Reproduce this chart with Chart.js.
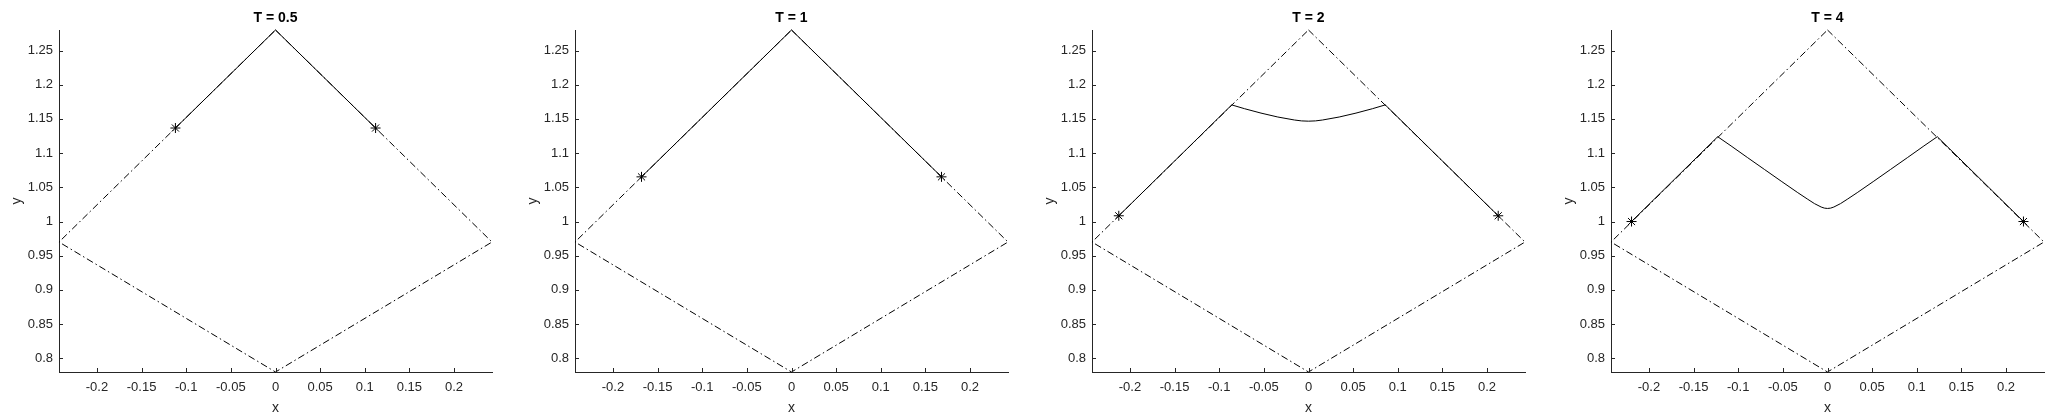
<!DOCTYPE html>
<html>
<head>
<meta charset="utf-8">
<script src="https://cdn.jsdelivr.net/npm/chart.js@4"></script>
<style>
  html, body { margin: 0; padding: 0; background: #fff; overflow: hidden; }
  #wrap { position: relative; width: 2068px; height: 417px; }
  canvas { position: absolute; top: 0; }
</style>
</head>
<body>
<div id="wrap"></div>
<script>
// panel titles
const titles = ['T = 0.5', 'T = 1', 'T = 2', 'T = 4'];

// axis ticks
const xTicks = [-0.2, -0.15, -0.1, -0.05, 0, 0.05, 0.1, 0.15, 0.2];
const yTicks = [0.8, 0.85, 0.9, 0.95, 1, 1.05, 1.1, 1.15, 1.2, 1.25];
const xRange = [-0.2425, 0.2425];
const yRange = [0.78, 1.28];

// dash-dot boundary (same in every panel)
const boundX = [0, 0.2425, 0, -0.2425, 0];
const boundY = [1.28, 0.97, 0.78, 0.97, 1.28];

// solid front, one pair of arrays per panel
const frontX1 = [-0.1121, 0, 0.1121];
const frontY1 = [1.1367, 1.28, 1.1367];

const frontX2 = [-0.168, 0, 0.168];
const frontY2 = [1.0653, 1.28, 1.0653];

const frontX3 = [-0.2125, -0.086, -0.0718, -0.0532, -0.0344, -0.0157, -0.0078, 0,
                 0.0078, 0.0157, 0.0344, 0.0532, 0.0718, 0.086, 0.2125];
const frontY3 = [1.0084, 1.1705, 1.165, 1.1585, 1.1528, 1.1484, 1.1471, 1.1467,
                 1.1471, 1.1484, 1.1528, 1.1585, 1.165, 1.1705, 1.0084];

const frontX4 = [-0.2195, -0.123, -0.108, -0.0894, -0.0707, -0.0519, -0.0333, -0.0221, -0.0146, -0.0071, -0.0035, 0,
                 0.0035, 0.0071, 0.0146, 0.0221, 0.0333, 0.0519, 0.0707, 0.0894, 0.108, 0.123, 0.2195];
const frontY4 = [1.0, 1.124, 1.1105, 1.0933, 1.0762, 1.059, 1.0422, 1.0325, 1.0262, 1.0212, 1.0196, 1.0191,
                 1.0196, 1.0212, 1.0262, 1.0325, 1.0422, 1.059, 1.0762, 1.0933, 1.1105, 1.124, 1.0];

// star markers at the ends of the front
const starX = [[-0.1121, 0.1121], [-0.168, 0.168], [-0.2125, 0.2125], [-0.2195, 0.2195]];
const starY = [[1.1367, 1.1367], [1.0653, 1.0653], [1.0084, 1.0084], [1.0, 1.0]];

const frontsX = [frontX1, frontX2, frontX3, frontX4];
const frontsY = [frontY1, frontY2, frontY3, frontY4];

const canvasLeft = [0, 516, 1033, 1552];
const AX = '#262626';
const FONT = "'Liberation Sans', Arial, Helvetica, sans-serif";

const toPts = (xs, ys) => xs.map((x, i) => ({ x, y: ys[i] }));
const fmt = v => String(Number(v.toFixed(2)));

// MATLAB style ticks pointing into the plot
const inwardTicks = {
  id: 'inwardTicks',
  afterDatasetsDraw(chart) {
    const { ctx, chartArea, scales } = chart;
    ctx.save();
    ctx.strokeStyle = AX;
    ctx.lineWidth = 1;
    scales.x.ticks.forEach(t => {
      const px = Math.round(scales.x.getPixelForValue(t.value)) + 0.5;
      ctx.beginPath();
      ctx.moveTo(px, chartArea.bottom);
      ctx.lineTo(px, chartArea.bottom - 4);
      ctx.stroke();
    });
    scales.y.ticks.forEach(t => {
      const py = Math.round(scales.y.getPixelForValue(t.value)) + 0.5;
      ctx.beginPath();
      ctx.moveTo(chartArea.left, py);
      ctx.lineTo(chartArea.left + 4, py);
      ctx.stroke();
    });
    ctx.restore();
  }
};

const wrap = document.getElementById('wrap');

titles.forEach((title, i) => {
  const cv = document.createElement('canvas');
  cv.width = 551;
  cv.height = 417;
  cv.style.left = canvasLeft[i] + 'px';
  cv.style.width = '551px';
  cv.style.height = '417px';
  wrap.appendChild(cv);

  new Chart(cv.getContext('2d'), {
    type: 'scatter',
    data: {
      datasets: [
        {
          data: toPts(starX[i], starY[i]),
          pointStyle: 'star',
          pointRadius: 5,
          borderColor: '#000',
          backgroundColor: '#000',
          borderWidth: 1,
          showLine: false,
          clip: false,
        },
        {
          data: toPts(frontsX[i], frontsY[i]),
          showLine: true,
          pointRadius: 0,
          borderColor: '#000',
          borderWidth: 1,
          tension: 0,
          clip: false,
        },
        {
          data: toPts(boundX, boundY),
          showLine: true,
          pointRadius: 0,
          borderColor: '#000',
          borderWidth: 1,
          borderDash: [7, 3, 1.5, 3],
          clip: false,
        },
      ],
    },
    options: {
      responsive: false,
      animation: false,
      events: [],
      layout: { padding: 0 },
      plugins: {
        legend: { display: false },
        tooltip: { enabled: false },
        title: {
          display: true,
          text: title,
          color: '#000',
          font: { family: FONT, size: 14, weight: 'bold' },
          padding: { top: 10, bottom: 3.2 },
        },
      },
      scales: {
        x: {
          type: 'linear',
          min: xRange[0],
          max: xRange[1],
          afterBuildTicks: s => { s.ticks = xTicks.map(v => ({ value: v })); },
          afterFit: s => { s.height = 45; },
          grid: { display: false, drawTicks: false },
          border: { display: true, color: AX, width: 1 },
          ticks: {
            color: AX,
            padding: 8,
            maxRotation: 0,
            autoSkip: false,
            font: { family: FONT, size: 13 },
            callback: v => fmt(v),
          },
          title: {
            display: true,
            text: 'x',
            color: AX,
            font: { family: FONT, size: 14 },
            padding: { top: 0, bottom: 0.6 },
          },
        },
        y: {
          type: 'linear',
          position: 'left',
          min: yRange[0],
          max: yRange[1],
          afterBuildTicks: s => { s.ticks = yTicks.map(v => ({ value: v })); },
          afterFit: s => { s.width = 59; },
          grid: { display: false, drawTicks: false },
          border: { display: true, color: AX, width: 1 },
          ticks: {
            color: AX,
            padding: 6,
            autoSkip: false,
            font: { family: FONT, size: 13 },
            callback: v => fmt(v),
          },
          title: {
            display: true,
            text: 'y',
            color: AX,
            font: { family: FONT, size: 14 },
            padding: { top: 8.6, bottom: 0 },
          },
        },
        // empty right axis so the plot sits centred under its title
        yPad: {
          type: 'linear',
          position: 'right',
          min: 0,
          max: 1,
          afterFit: s => { s.width = 59; },
          grid: { display: false, drawTicks: false },
          border: { display: false },
          ticks: { display: false },
        },
      },
    },
    plugins: [inwardTicks],
  });
});
</script>
</body>
</html>
